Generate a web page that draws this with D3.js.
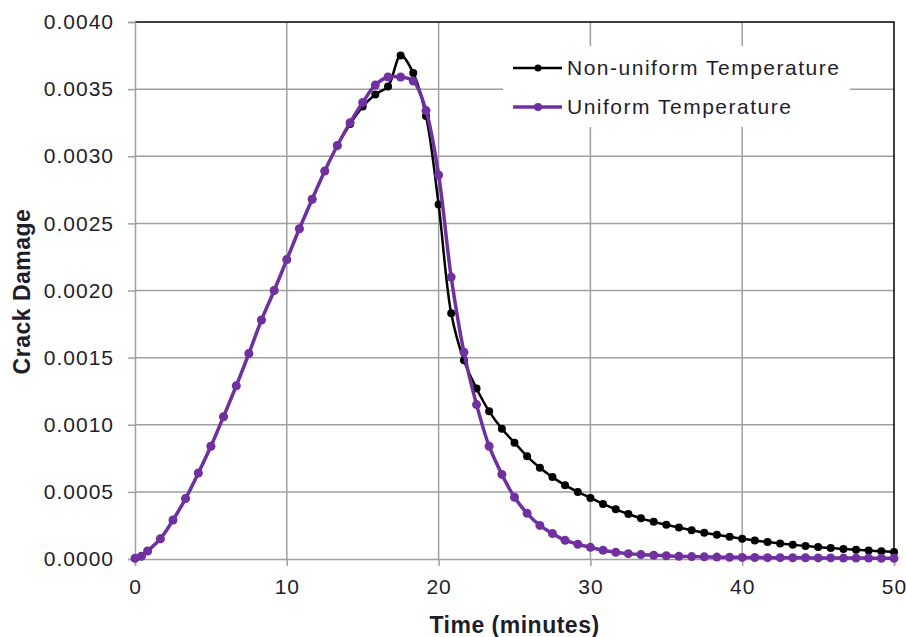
<!DOCTYPE html>
<html>
<head>
<meta charset="utf-8">
<script src="https://cdn.jsdelivr.net/npm/d3@7/dist/d3.min.js"></script>
<style>
  body { margin: 0; background: #fff; }
  svg text { font-family: "Liberation Sans", Arial, sans-serif; fill: #1e1e2a; }
</style>
</head>
<body>
<div id="chart"></div>
<script>
// time in minutes (x values)
var times = [0, 0.42, 0.83, 1.67, 2.5, 3.33, 4.17, 5, 5.83, 6.67, 7.5, 8.33, 9.17, 10,
  10.83, 11.67, 12.5, 13.33, 14.17, 15, 15.83, 16.67, 17.5, 18.33, 19.17, 20,
  20.83, 21.67, 22.5, 23.33, 24.17, 25, 25.83, 26.67, 27.5, 28.33, 29.17, 30,
  30.83, 31.67, 32.5, 33.33, 34.17, 35, 35.83, 36.67, 37.5, 38.33, 39.17, 40,
  40.83, 41.67, 42.5, 43.33, 44.17, 45, 45.83, 46.67, 47.5, 48.33, 49.17, 50];

// crack damage, non-uniform temperature
var nonUniform = [0.000005, 0.00002, 0.00006, 0.00015, 0.00029, 0.00045, 0.00064, 0.00084,
  0.00106, 0.00129, 0.00153, 0.00178, 0.00200, 0.00223, 0.00246, 0.00268, 0.00289,
  0.00308, 0.00324, 0.00337, 0.00346, 0.00352, 0.00375, 0.00362, 0.00330, 0.00264,
  0.00183, 0.00148, 0.00127, 0.00110, 0.00097, 0.000866, 0.000765, 0.00068, 0.00061,
  0.00055, 0.0005, 0.000455, 0.00041, 0.00037, 0.000335, 0.000303, 0.000278, 0.000255,
  0.000234, 0.000214, 0.000196, 0.00018, 0.000165, 0.000151, 0.000138, 0.000127,
  0.000116, 0.000106, 0.000097, 0.000089, 0.000082, 0.000075, 0.000069, 0.000063,
  0.000058, 0.000053];

// crack damage, uniform temperature
var uniform = [0.000005, 0.00002, 0.00006, 0.00015, 0.00029, 0.00045, 0.00064, 0.00084,
  0.00106, 0.00129, 0.00153, 0.00178, 0.00200, 0.00223, 0.00246, 0.00268, 0.00289,
  0.00308, 0.00325, 0.00340, 0.00353, 0.00359, 0.00359, 0.00356, 0.00334, 0.00286,
  0.00210, 0.00154, 0.00115, 0.00084, 0.00063, 0.00046, 0.00034, 0.00025, 0.00019,
  0.00014, 0.00011, 0.000087, 0.000065, 0.00005, 0.00004, 0.000033, 0.000028, 0.000024,
  0.00002, 0.000018, 0.000016, 0.000014, 0.000013, 0.000012, 0.000011, 0.00001,
  0.00001, 0.000009, 0.000009, 0.000008, 0.000008, 0.000007, 0.000007, 0.000007,
  0.000006, 0.000006];

var xTicks = [0, 10, 20, 30, 40, 50];
var yTicks = [0, 0.0005, 0.001, 0.0015, 0.002, 0.0025, 0.003, 0.0035, 0.004];
var seriesNames = ["Non-uniform Temperature", "Uniform Temperature"];

var width = 906, height = 637;
var plot = { left: 135, right: 894, top: 22, bottom: 559 };
var gridColor = "#a0a0a0";
var colors = ["#000000", "#7030a0"];

var svg = d3.select("#chart").append("svg")
    .attr("width", width)
    .attr("height", height);

var x = d3.scaleLinear().domain([0, 50]).range([plot.left, plot.right]);
var y = d3.scaleLinear().domain([0, 0.004]).range([plot.bottom, plot.top]);

// gridlines
svg.append("g").selectAll("line")
    .data(yTicks.slice(1, -1))
    .enter().append("line")
    .attr("x1", plot.left).attr("x2", plot.right)
    .attr("y1", function(d) { return y(d); })
    .attr("y2", function(d) { return y(d); })
    .style("stroke", gridColor).style("stroke-width", 1.5);

svg.append("g").selectAll("line")
    .data(xTicks.slice(1, -1))
    .enter().append("line")
    .attr("y1", plot.top).attr("y2", plot.bottom)
    .attr("x1", function(d) { return x(d); })
    .attr("x2", function(d) { return x(d); })
    .style("stroke", gridColor).style("stroke-width", 1.5);

// plot border: top and right black
svg.append("path")
    .attr("d", "M" + plot.left + "," + plot.top + "H" + plot.right + "V" + plot.bottom)
    .style("fill", "none").style("stroke", "#000").style("stroke-width", 1.5);

// axes
var yAxis = d3.axisLeft(y).tickValues(yTicks).tickSize(7).tickPadding(14)
    .tickFormat(d3.format(".4f"));
var xAxis = d3.axisBottom(x).tickValues(xTicks).tickSize(7).tickPadding(13)
    .tickFormat(d3.format("d"));

var gy = svg.append("g").attr("transform", "translate(" + plot.left + ",0)").call(yAxis);
var gx = svg.append("g").attr("transform", "translate(0," + plot.bottom + ")").call(xAxis);

[gx, gy].forEach(function(g) {
    g.select(".domain").style("stroke", gridColor).style("stroke-width", 1.5);
    g.selectAll(".tick line").style("stroke", gridColor).style("stroke-width", 1.5);
    g.selectAll(".tick text")
        .style("font-family", "'Liberation Sans', Arial, sans-serif")
        .style("font-size", "21px")
        .style("letter-spacing", "1px")
        .style("fill", "#1e1e2a");
});

// axis titles
svg.append("text")
    .attr("x", (plot.left + plot.right) / 2)
    .attr("y", 633)
    .attr("text-anchor", "middle")
    .style("font-size", "23px")
    .style("font-weight", "bold")
    .style("letter-spacing", "0.5px")
    .text("Time (minutes)");

svg.append("text")
    .attr("transform", "translate(30," + ((plot.top + plot.bottom) / 2 + 1) + ") rotate(-90)")
    .attr("text-anchor", "middle")
    .style("font-size", "23px")
    .style("font-weight", "bold")
    .style("letter-spacing", "0.5px")
    .text("Crack Damage");

// series
var line = d3.line()
    .x(function(d) { return x(d[0]); })
    .y(function(d) { return y(d[1]); })
    .curve(d3.curveCatmullRom.alpha(0.5));

var seriesData = [nonUniform, uniform].map(function(vals) {
    return times.map(function(t, i) { return [t, vals[i]]; });
});
var lineWidths = [2.5, 3.5];
var markerR = [4, 4.5];

seriesData.forEach(function(pts, k) {
    var g = svg.append("g").attr("class", "series");
    g.append("path")
        .datum(pts)
        .attr("d", line)
        .style("fill", "none")
        .style("stroke", colors[k])
        .style("stroke-width", lineWidths[k])
        .style("stroke-linejoin", "round");
    g.selectAll("circle")
        .data(pts)
        .enter().append("circle")
        .attr("cx", function(d) { return x(d[0]); })
        .attr("cy", function(d) { return y(d[1]); })
        .attr("r", markerR[k])
        .style("fill", colors[k]);
});

// legend
var legend = svg.append("g").attr("class", "legend");
legend.append("rect")
    .attr("x", 503).attr("y", 46)
    .attr("width", 347).attr("height", 81)
    .style("fill", "#fff");

var items = legend.selectAll(".item")
    .data(seriesNames)
    .enter().append("g")
    .attr("class", "item")
    .attr("transform", function(d, i) { return "translate(513," + (68 + i * 39) + ")"; });

items.append("line")
    .attr("x1", 0).attr("x2", 49)
    .style("stroke", function(d, i) { return colors[i]; })
    .style("stroke-width", function(d, i) { return lineWidths[i]; });
items.append("circle")
    .attr("cx", 25).attr("r", function(d, i) { return markerR[i] - 0.5; })
    .style("fill", function(d, i) { return colors[i]; });
items.append("text")
    .attr("x", 54)
    .attr("dy", "0.35em")
    .style("font-size", "21px")
    .style("letter-spacing", "1.5px")
    .text(function(d) { return d; });
</script>
</body>
</html>
